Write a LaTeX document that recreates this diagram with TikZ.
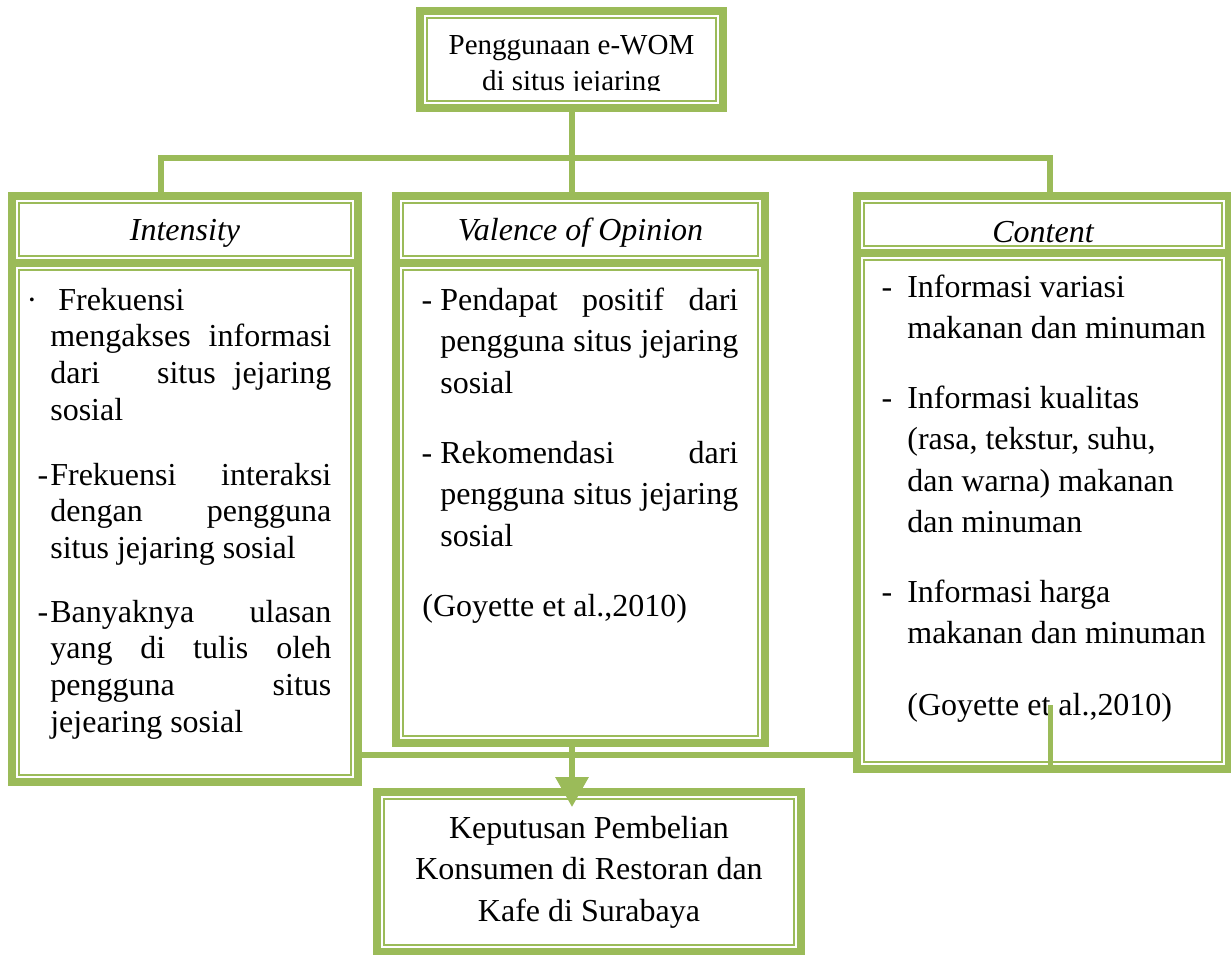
\documentclass[tikz,border=0pt]{standalone}
\usepackage{fontspec}
\setmainfont{Liberation Serif}
\usetikzlibrary{arrows.meta}
\definecolor{wgreen}{HTML}{9BBB59}
\newlength{\pxu}\setlength{\pxu}{0.02cm}
\newcommand{\fillline}[2]{\makebox[#1][s]{#2}}
\tikzset{
  every node/.style={execute at begin node={\spaceskip=0pt\xspaceskip=0pt\relax}},
  gbox/.style={draw=wgreen, line width=8\pxu, fill=white, inner sep=0pt,
    path picture={\draw[wgreen, line width=2\pxu]
      ([shift={(3.98pt,3.98pt)}]path picture bounding box.south west) rectangle
      ([shift={(-3.98pt,-3.98pt)}]path picture bounding box.north east);}},
  head/.style={gbox, font=\fontsize{18.21pt}{20pt}\selectfont\itshape, text depth=0pt},
  link/.style={draw=wgreen, line width=6\pxu},
  item/.style={anchor=base west, inner sep=0pt, align=left,
    font=\fontsize{18.21pt}{#1}\selectfont},
}
\begin{document}
\begin{tikzpicture}[x=0.02cm, y=-0.02cm]
  \useasboundingbox (0,0) rectangle (1231,954);
  % top box
  \node[gbox, minimum width=303\pxu, minimum height=97\pxu] (top) at (571.5,59.5) {};
  \begin{scope}
    \clip (420,11) rectangle (723,90);
    \node[anchor=base, inner sep=0pt, text width=300\pxu, align=center,
      font=\fontsize{16.5pt}{21.05pt}\selectfont] (toptext) at (571.5,54)
      {\mbox{Penggunaan e-WOM}\\\mbox{di situs jejaring}};
  \end{scope}

  % column heads and bodies
  \node[head, minimum width=346\pxu, minimum height=67\pxu, text height=22\pxu] (inthead) at (185,229.5) {Intensity};
  \node[gbox, minimum width=346\pxu, minimum height=519\pxu] (intbody) at (185,522.5) {};
  \node[head, minimum width=369\pxu, minimum height=67\pxu, text height=22\pxu] (valhead) at (580.5,229.5) {Valence of Opinion};
  \node[gbox, minimum width=369\pxu, minimum height=480\pxu] (valbody) at (580.5,503) {};
  \node[head, minimum width=372\pxu, minimum height=57\pxu, text height=35\pxu] (conhead) at (1043,224.5) {Content};
  \node[gbox, minimum width=372\pxu, minimum height=516\pxu] (conbody) at (1043,511) {};

  % result box
  \node[gbox, minimum width=424\pxu, minimum height=160\pxu, text width=410\pxu, align=center,
    font=\fontsize{18.21pt}{23.62pt}\selectfont] (kep) at (589,872)
    {\mbox{Keputusan Pembelian}\\\mbox{Konsumen di Restoran dan}\\\mbox{Kafe di Surabaya}};

  % connectors
  \coordinate (barL) at (161,158);
  \coordinate (barR) at (1050,158);
  \draw[link] (top.south) -- (top.south |- barL);
  \draw[link] (barL |- inthead.north) -- (barL) -- (barR) -- (barR |- conhead.north);
  \draw[link] (top.south |- barL) -- (top.south |- valhead.north);
  \coordinate (jn) at (572,755);
  \draw[link] (jn -| intbody.east) -- (jn -| conbody.west);
  \coordinate (tip) at ([yshift=-19\pxu]kep.north);
  \draw[link, -{Triangle[width=18.2pt, length=17pt]}] (jn |- valbody.south) -- (jn |- tip);

  % Intensity items
  \node[item=20.88pt, text width=281\pxu] (int1) at (50,310)
    {\leavevmode\llap{·\hspace{13\pxu}}\hspace*{8\pxu}Frekuensi\\
     \fillline{281\pxu}{mengakses informasi}\\
     \fillline{281\pxu}{dari\hspace{0pt plus 5fil} situs\hspace{0pt plus 1fil} jejaring}\\
     sosial};
  \node[item=20.88pt, text width=281\pxu] (int2) at (50,485)
    {\leavevmode\llap{-\hspace{2\pxu}}\fillline{281\pxu}{Frekuensi interaksi}\\
     \fillline{281\pxu}{dengan pengguna}\\
     situs jejaring sosial};
  \node[item=20.88pt, text width=281\pxu] (int3) at (50,622)
    {\leavevmode\llap{-\hspace{2\pxu}}\fillline{281\pxu}{Banyaknya ulasan}\\
     \fillline{281\pxu}{yang di tulis oleh}\\
     \fillline{281\pxu}{pengguna situs}\\
     jejearing sosial};

  % Valence items
  \node[item=23.62pt, text width=298\pxu] (val1) at (440,310)
    {\leavevmode\llap{-\hspace{8\pxu}}\fillline{298\pxu}{Pendapat positif dari}\\
     \fillline{298\pxu}{pengguna situs jejaring}\\
     sosial};
  \node[item=23.62pt, text width=298\pxu] (val2) at (440,463)
    {\leavevmode\llap{-\hspace{8\pxu}}\fillline{298\pxu}{Rekomendasi dari}\\
     \fillline{298\pxu}{pengguna situs jejaring}\\
     sosial};
  \node[item=23.62pt, text width=300\pxu] (valref) at (422,616) {(Goyette et al.,2010)};

  % Content items
  \node[item=23.62pt, text width=310\pxu] (con1) at (907,297)
    {\leavevmode\llap{-\hspace{15\pxu}}Informasi variasi\\
     makanan dan minuman};
  \node[item=23.62pt, text width=310\pxu] (con2) at (907,408)
    {\leavevmode\llap{-\hspace{15\pxu}}Informasi kualitas\\
     (rasa, tekstur, suhu,\\
     dan warna) makanan\\
     dan minuman};
  \node[item=23.62pt, text width=310\pxu] (con3) at (907,602)
    {\leavevmode\llap{-\hspace{15\pxu}}Informasi harga\\
     makanan dan minuman};
  \node[item=23.62pt, text width=310\pxu] (conref) at (907,715) {(Goyette et al.,2010)};

  % stray stub over the content box
  \coordinate (stub) at (1050,705);
  \draw[link, line width=5\pxu] (stub) -- (stub |- conbody.south);
\end{tikzpicture}
\end{document}
